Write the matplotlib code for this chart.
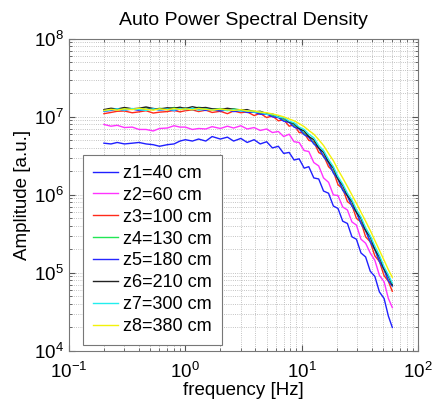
import numpy as np
import matplotlib
matplotlib.use('Agg')
import matplotlib.pyplot as plt

# Plot constants
FONT = 'Liberation Sans'
TITLE_SIZE = 14
LABEL_SIZE = 13.5
TICK_SIZE = 13.5
LEGEND_SIZE = 13

plt.rcParams['font.family'] = [FONT, 'DejaVu Sans']
plt.rcParams['mathtext.fontset'] = 'custom'
plt.rcParams['mathtext.rm'] = FONT
plt.rcParams['mathtext.it'] = FONT + ':italic'

# frequency axis [Hz]
freq = [0.2, 0.23, 0.26, 0.3, 0.35, 0.4, 0.46, 0.53, 0.6, 0.7,
        0.8, 0.9, 1.0, 1.15, 1.3, 1.5, 1.7, 2.0, 2.3, 2.6,
        3.0, 3.4, 3.9, 4.4, 5.0, 5.6, 6.3, 7.0, 7.8, 8.6,
        9.5, 10.5, 11.5, 12.7, 14, 15.4, 17, 18.7, 20.5, 22.5,
        24.7, 27, 29.5, 32.3, 35.4, 38.8, 42.5, 46.5, 51, 55.5, 60]

# amplitudes in units of 1e6 a.u.
z1 = [4.6, 4.5, 4.7, 4.5, 4.6, 4.7, 4.5, 4.4, 4.2, 4.4, 4.5, 4.9, 5.1, 4.9, 5.2, 4.9, 5.6, 5.2, 5.5, 4.9,
      5.3, 4.7, 5.1, 4.5, 4.8, 4.0, 4.2, 3.4, 3.5, 2.8, 2.9, 2.2, 2.3, 1.65, 1.6, 1.12, 1.05, 0.72, 0.67, 0.46,
      0.43, 0.29, 0.27, 0.18, 0.16, 0.105, 0.09, 0.057, 0.047, 0.028, 0.02]
z2 = [8.0, 7.6, 7.8, 7.3, 7.4, 6.9, 6.9, 6.6, 7.1, 7.2, 7.7, 7.4, 7.4, 6.9, 7.1, 7.0, 7.5, 7.1, 7.6, 7.2,
      7.7, 7.0, 7.3, 6.7, 7.0, 6.3, 6.5, 5.6, 6.0, 4.8, 4.7, 3.7, 3.6, 2.6, 2.35, 1.65, 1.45, 1.0, 0.98, 0.7,
      0.64, 0.45, 0.41, 0.27, 0.24, 0.18, 0.145, 0.093, 0.077, 0.047, 0.036]
z3 = [11.0, 11.4, 11.8, 11.9, 11.3, 11.6, 12.0, 11.2, 11.5, 11.7, 12.1, 11.6, 12.0, 12.3, 11.7, 12.2, 11.4, 11.8, 11.0, 11.9,
      11.3, 11.6, 10.4, 11.1, 9.8, 10.3, 8.9, 9.2, 7.6, 7.9, 6.3, 6.2, 5.0, 4.8, 3.5, 3.2, 2.3, 2.0, 1.35, 1.2,
      0.82, 0.74, 0.5, 0.45, 0.29, 0.25, 0.165, 0.14, 0.092, 0.078, 0.058]
z4 = [12.2, 12.6, 12.4, 13.0, 12.5, 12.8, 13.1, 12.4, 12.9, 12.6, 13.2, 12.8, 13.0, 12.7, 13.3, 12.9, 12.5, 12.8, 12.2, 12.7,
      12.3, 11.9, 11.8, 11.2, 11.0, 10.4, 10.0, 9.1, 8.7, 7.7, 7.2, 6.1, 5.6, 4.6, 4.0, 3.1, 2.6, 1.95, 1.6, 1.15,
      0.98, 0.72, 0.6, 0.43, 0.35, 0.25, 0.2, 0.14, 0.11, 0.08, 0.068]
z5 = [11.8, 12.1, 12.5, 12.2, 12.6, 12.1, 12.4, 12.8, 12.2, 12.5, 12.0, 12.6, 12.9, 12.3, 12.6, 12.1, 12.4, 11.9, 12.3, 11.7,
      12.0, 11.4, 11.5, 10.8, 10.9, 10.0, 9.8, 8.8, 8.5, 7.4, 7.0, 5.9, 5.5, 4.5, 4.0, 3.1, 2.6, 1.9, 1.6, 1.15,
      0.97, 0.72, 0.6, 0.43, 0.35, 0.25, 0.2, 0.14, 0.11, 0.079, 0.068]
z6 = [12.4, 12.9, 12.6, 13.2, 12.7, 12.9, 13.4, 12.8, 12.6, 13.1, 12.9, 13.3, 12.8, 13.5, 13.0, 13.2, 12.7, 12.4, 12.9, 12.5,
      12.2, 12.4, 11.6, 11.8, 11.0, 10.9, 9.9, 9.7, 8.6, 8.2, 7.1, 6.6, 5.6, 5.1, 4.0, 3.5, 2.65, 2.2, 1.6, 1.32,
      0.98, 0.82, 0.6, 0.5, 0.35, 0.29, 0.2, 0.16, 0.112, 0.091, 0.07]
z7 = [11.9, 12.3, 12.7, 12.2, 12.8, 12.4, 12.1, 12.7, 12.3, 12.6, 12.2, 12.8, 12.4, 12.9, 12.2, 12.6, 12.3, 12.5, 12.0, 12.4,
      11.9, 12.0, 11.5, 11.6, 10.8, 10.9, 9.9, 9.8, 8.8, 8.4, 7.4, 6.9, 6.0, 5.4, 4.3, 3.7, 2.85, 2.3, 1.72, 1.38,
      1.05, 0.86, 0.65, 0.52, 0.38, 0.3, 0.22, 0.168, 0.12, 0.094, 0.074]
z8 = [12.1, 12.5, 12.2, 12.7, 12.4, 12.9, 12.5, 12.2, 12.7, 12.3, 12.8, 12.4, 12.7, 12.3, 12.8, 12.5, 12.2, 12.6, 12.3, 12.1,
      12.4, 11.9, 11.9, 11.5, 11.3, 10.9, 10.5, 10.0, 9.4, 8.9, 8.2, 7.5, 6.7, 6.0, 5.1, 4.3, 3.4, 2.75, 2.1, 1.65,
      1.28, 1.0, 0.78, 0.6, 0.46, 0.35, 0.26, 0.195, 0.145, 0.11, 0.088]

series = [z1, z2, z3, z4, z5, z6, z7, z8]
labels = ["z1=40 cm", "z2=60 cm", "z3=100 cm", "z4=130 cm",
          "z5=180 cm", "z6=210 cm", "z7=300 cm", "z8=380 cm"]
colors = ["#2020ff", "#ff33ff", "#ff2a1a", "#22e655",
          "#2626ff", "#222222", "#22eeee", "#f2f20a"]

fig = plt.figure(figsize=(4.36, 4.01), dpi=100)
ax = fig.add_axes([0.158, 0.125, 0.801, 0.778])

for vals, lab, col in zip(series, labels, colors):
    ax.plot(freq, np.array(vals) * 1e6, '-', color=col, lw=1.0, label=lab)

ax.set_xscale('log')
ax.set_yscale('log')
ax.set_xlim(0.1, 100)
ax.set_ylim(1e4, 1e8)

ax.grid(True, which='both', linestyle=':', color='#b0b0b0', linewidth=0.6)
ax.tick_params(which='both', direction='in', top=True, right=True,
               labelsize=TICK_SIZE, colors='#555555', labelcolor='black')
ax.tick_params(which='major', length=4)
ax.tick_params(which='minor', length=2)
ax.tick_params(axis='x', which='major', pad=8)
for sp in ax.spines.values():
    sp.set_color('#777777')
    sp.set_linewidth(0.8)

ax.set_xlabel("frequency [Hz]", fontsize=LABEL_SIZE, labelpad=0)
ax.set_ylabel("Amplitude [a.u.]", fontsize=LABEL_SIZE, labelpad=2)
ax.set_title("Auto Power Spectral Density", fontsize=TITLE_SIZE, pad=10)

leg = ax.legend(loc='upper left', bbox_to_anchor=(0.041, 0.628), borderaxespad=0,
                fontsize=LEGEND_SIZE, fancybox=False, framealpha=1,
                edgecolor='#777777', handlelength=1.4, handletextpad=0.25,
                labelspacing=0.27, borderpad=0.55)
leg.get_frame().set_linewidth(0.8)

fig.savefig('out.png', dpi=100)
